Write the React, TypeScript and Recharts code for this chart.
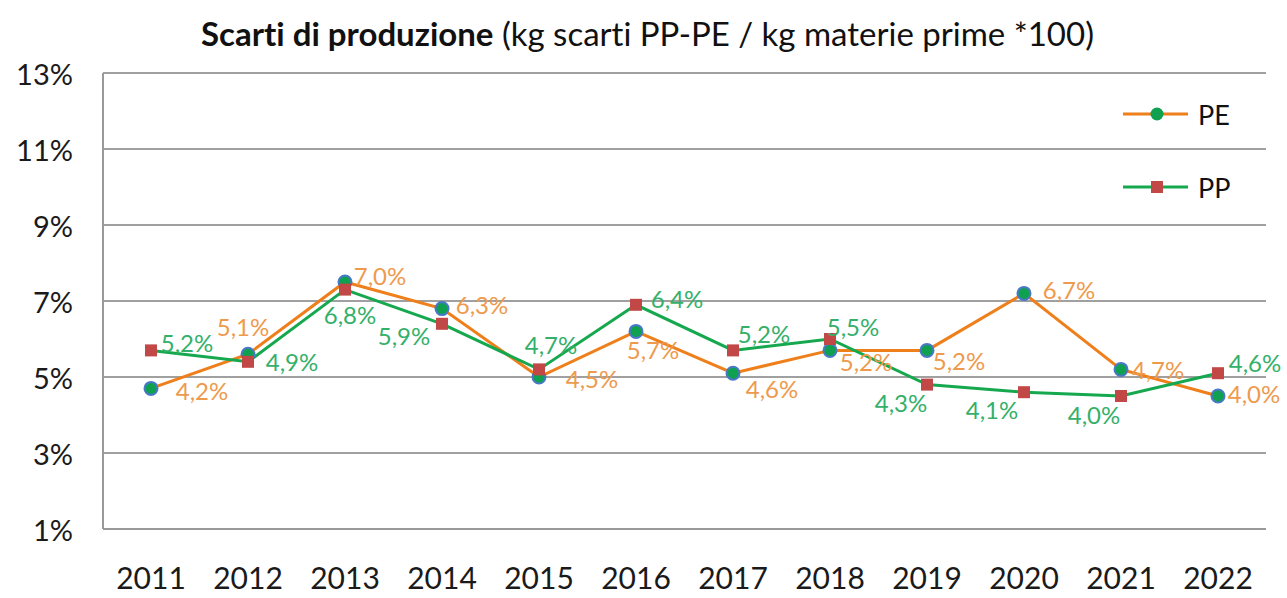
import React from 'react';
import { LineChart, Line, XAxis, YAxis, CartesianGrid, LabelList } from 'recharts';

// Categories
const years = ['2011', '2012', '2013', '2014', '2015', '2016', '2017', '2018', '2019', '2020', '2021', '2022'];
// Series values (as printed in the data labels, %)
const peValues = [4.2, 5.1, 7.0, 6.3, 4.5, 5.7, 4.6, 5.2, 5.2, 6.7, 4.7, 4.0];
const ppValues = [5.2, 4.9, 6.8, 5.9, 4.7, 6.4, 5.2, 5.5, 4.3, 4.1, 4.0, 4.6];
// Y axis: in the reference the gridlines sit half a point below the printed tick labels
const yTickValues = [0.5, 2.5, 4.5, 6.5, 8.5, 10.5, 12.5];
const yTickLabels = ['1%', '3%', '5%', '7%', '9%', '11%', '13%'];
const seriesNames = ['PE', 'PP'];

const data = years.map((y, i) => ({ year: y, PE: peValues[i], PP: ppValues[i] }));

// label placement (styling), offsets from the point in px
const PE_LABEL_OFFSETS = [[51, 2], [-5, -28], [35, -7], [40, -4], [53, 1], [17, 18], [39, 15], [36, 11], [32, 10], [45, -4], [37, 0], [36, -3]];
const PP_LABEL_OFFSETS = [[36, -8], [44, 0], [5, 25], [-38, 12], [12, -25], [41, -6], [31, -17], [23, -13], [-26, 18], [-32, 17], [-27, 18], [37, -11]];

const FONT = 'Lato, "Open Sans", sans-serif';
const PE_LINE = '#EE7F1A';
const PE_LABEL = '#EE9A4D';
const PP_LINE = '#16A84E';
const PP_LABEL = '#34B06A';
const MARK_FILL = '#0FA050';
const MARK_STROKE = '#4A78C8';
const SQUARE = '#C24848';
const GRID = '#A0A0A0';

const fmt = (v: number) => v.toFixed(1).replace('.', ',') + '%';

const makeLabel = (offsets: number[][], color: string) => (props: any) => {
  const { x, y, index, value } = props;
  const o = offsets[index] || [30, 0];
  return (
    <text
      x={Number(x) + o[0]}
      y={Number(y) + o[1]}
      textAnchor="middle"
      dominantBaseline="central"
      fill={color}
      fontSize={24}
      fontFamily={FONT}
    >
      {fmt(Number(value))}
    </text>
  );
};

const circleDot = (props: any) => {
  const { cx, cy, index } = props;
  return <circle key={'pe' + index} cx={cx} cy={cy} r={6.5} fill={MARK_FILL} stroke={MARK_STROKE} strokeWidth={2} />;
};

const squareDot = (props: any) => {
  const { cx, cy, index } = props;
  return <rect key={'pp' + index} x={cx - 6} y={cy - 6} width={12} height={12} fill={SQUARE} />;
};

const YTick = (props: any) => {
  const { y, payload, index } = props;
  const i = yTickValues.indexOf(payload.value);
  return (
    <text x={73} y={y} textAnchor="end" dominantBaseline="central" fill="#1a1a1a" fontSize={29} fontFamily={FONT}>
      {yTickLabels[i >= 0 ? i : index]}
    </text>
  );
};

const XTick = (props: any) => {
  const { x, payload } = props;
  return (
    <text x={x} y={577} textAnchor="middle" dominantBaseline="central" fill="#1a1a1a" fontSize={30} fontFamily={FONT}>
      {payload.value}
    </text>
  );
};

const LegendOverlay = () => (
  <svg width={140} height={110} style={{ position: 'absolute', left: 1120, top: 95, display: 'block' }}>
    {/* PE */}
    <line x1={3} y1={19} x2={68} y2={19} stroke={PE_LINE} strokeWidth={3} />
    <circle cx={37} cy={19} r={6.5} fill={MARK_FILL} />
    <text x={78} y={19} dominantBaseline="central" fontSize={27} fontFamily={FONT} fill="#111">
      {seriesNames[0]}
    </text>
    {/* PP */}
    <line x1={3} y1={92} x2={68} y2={92} stroke={PP_LINE} strokeWidth={3} />
    <rect x={31} y={86} width={12} height={12} fill={SQUARE} />
    <text x={78} y={92} dominantBaseline="central" fontSize={27} fontFamily={FONT} fill="#111">
      {seriesNames[1]}
    </text>
  </svg>
);

export default function App() {
  return (
    <div style={{ position: 'absolute', left: 0, top: 0, width: 1287, height: 598, background: '#fff' }}>
      <div
        style={{
          position: 'absolute',
          left: 4,
          top: 13,
          width: 1287,
          textAlign: 'center',
          fontFamily: FONT,
          fontSize: 33,
          lineHeight: '40px',
          color: '#111',
          whiteSpace: 'nowrap',
          fontVariantLigatures: 'none',
          zIndex: 2,
        }}
      >
        <b>Scarti di produzione</b> (kg scarti PP-PE / kg materie prime *100)
      </div>
      <LineChart width={1287} height={598} data={data} margin={{ top: 73, right: 21, bottom: 0, left: 0 }}>
        <CartesianGrid vertical={false} stroke={GRID} strokeWidth={2} />
        <XAxis
          dataKey="year"
          height={69}
          tick={<XTick />}
          tickLine={false}
          axisLine={{ stroke: '#999', strokeWidth: 2 }}
          interval={0}
          padding={{ left: 48, right: 48 }}
        />
        <YAxis
          width={103}
          domain={[0.5, 12.5]}
          ticks={yTickValues}
          tick={<YTick />}
          tickLine={false}
          axisLine={{ stroke: '#999', strokeWidth: 2 }}
          interval={0}
        />
        <Line
          dataKey="PE"
          name={seriesNames[0]}
          stroke={PE_LINE}
          strokeWidth={3}
          dot={circleDot}
          activeDot={false}
          isAnimationActive={false}
        >
          <LabelList dataKey="PE" content={makeLabel(PE_LABEL_OFFSETS, PE_LABEL)} />
        </Line>
        <Line
          dataKey="PP"
          name={seriesNames[1]}
          stroke={PP_LINE}
          strokeWidth={3}
          dot={squareDot}
          activeDot={false}
          isAnimationActive={false}
        >
          <LabelList dataKey="PP" content={makeLabel(PP_LABEL_OFFSETS, PP_LABEL)} />
        </Line>
      </LineChart>
      <LegendOverlay />
    </div>
  );
}
